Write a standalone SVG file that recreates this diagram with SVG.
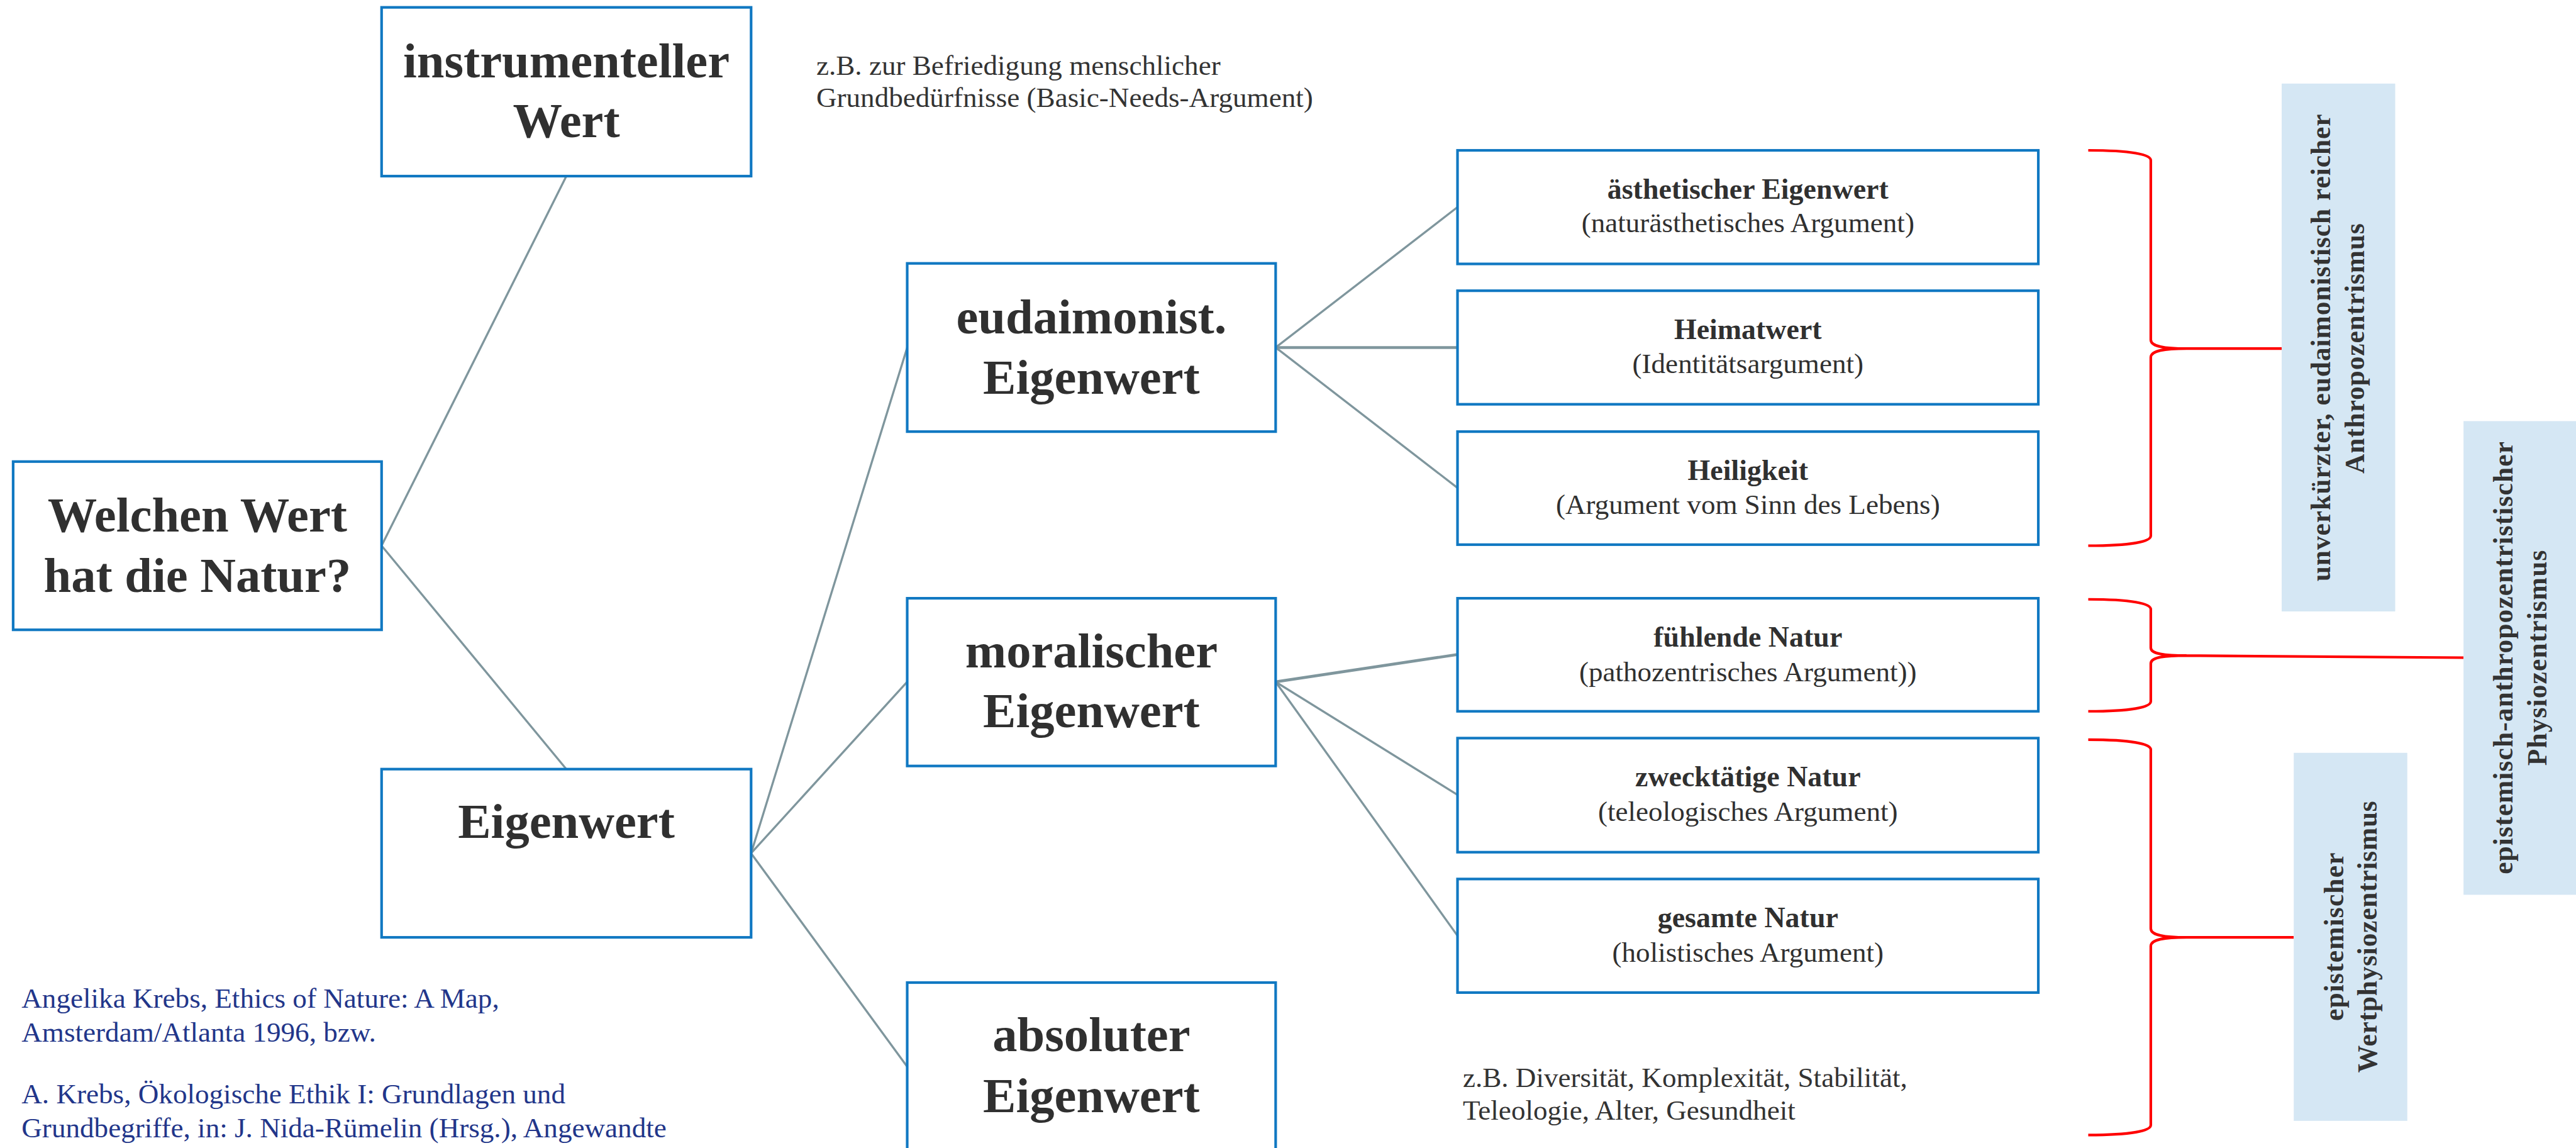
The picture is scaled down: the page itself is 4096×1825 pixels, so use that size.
<svg xmlns="http://www.w3.org/2000/svg" width="4096" height="1825" viewBox="0 0 4096 1825">
  <style>
    .box { fill: #ffffff; stroke: #1078c2; stroke-width: 5; }
    .main { font-family: "Liberation Serif", "Times New Roman", serif; font-weight: bold; font-size: 94px; fill: #303030; text-anchor: middle; }
    .ttl { font-family: "Liberation Serif", "Times New Roman", serif; font-weight: bold; font-size: 55px; fill: #303030; text-anchor: middle; }
    .sub { font-family: "Liberation Serif", "Times New Roman", serif; font-size: 54px; fill: #303030; text-anchor: middle; }
    .note { font-family: "Liberation Serif", "Times New Roman", serif; font-size: 54px; fill: #333333; }
    .cite { font-family: "Liberation Serif", "Times New Roman", serif; font-size: 54px; fill: #22368a; }
    .conn line { stroke: #7f969d; stroke-width: 4; stroke-linecap: round; }
    .conn line.thick { stroke-width: 5.5; }
    .brace { fill: none; stroke: #ff0000; stroke-width: 5; }
    .lab rect { fill: #d5e7f4; }
    .lab text { font-family: "Liberation Serif", "Times New Roman", serif; font-weight: bold; font-size: 52px; fill: #333333; text-anchor: middle; }
  </style>
  <rect width="4096" height="1825" fill="#ffffff"/>
  <!-- everything below is laid out in 4901 x 2184 units -->
  <g transform="scale(0.83575)">
    <!-- connectors -->
    <g id="connectors" class="conn">
      <line x1="726" y1="1038" x2="1077.5" y2="335"/>
      <line x1="726" y1="1038" x2="1077.5" y2="1463"/>
      <line x1="1429" y1="1623" x2="1726" y2="661"/>
      <line x1="1429" y1="1623" x2="1726" y2="1297"/>
      <line x1="1429" y1="1623" x2="1726" y2="2029"/>
      <line x1="2427" y1="661" x2="2773" y2="394"/>
      <line class="thick" x1="2427" y1="661" x2="2773" y2="661"/>
      <line x1="2427" y1="661" x2="2773" y2="928"/>
      <line class="thick" x1="2427" y1="1297" x2="2773" y2="1245"/>
      <line x1="2427" y1="1297" x2="2773" y2="1512"/>
      <line x1="2427" y1="1297" x2="2773" y2="1780"/>
    </g>

    <!-- main column nodes -->
    <g id="node-frage">
      <rect class="box" x="25" y="878" width="701" height="320"/>
      <text class="main" x="375.5" y="1011">Welchen Wert</text>
      <text class="main" x="375.5" y="1126">hat die Natur?</text>
    </g>
    <g id="node-instrumentell">
      <rect class="box" x="726" y="14" width="703" height="321"/>
      <text class="main" x="1077.5" y="147">instrumenteller</text>
      <text class="main" x="1077.5" y="261">Wert</text>
    </g>
    <g id="node-eigenwert">
      <rect class="box" x="726" y="1463" width="703" height="320"/>
      <text class="main" x="1077.5" y="1594">Eigenwert</text>
    </g>
    <g id="node-eudaimonist">
      <rect class="box" x="1726" y="501" width="701" height="320"/>
      <text class="main" x="2076.5" y="634">eudaimonist.</text>
      <text class="main" x="2076.5" y="749">Eigenwert</text>
    </g>
    <g id="node-moralisch">
      <rect class="box" x="1726" y="1138" width="701" height="319"/>
      <text class="main" x="2076.5" y="1269">moralischer</text>
      <text class="main" x="2076.5" y="1383">Eigenwert</text>
    </g>
    <g id="node-absolut">
      <rect class="box" x="1726" y="1869" width="701" height="320"/>
      <text class="main" x="2076.5" y="1999">absoluter</text>
      <text class="main" x="2076.5" y="2115">Eigenwert</text>
    </g>

    <!-- argument nodes -->
    <g id="node-aesthetisch">
      <rect class="box" x="2773" y="286" width="1105" height="216"/>
      <text class="ttl" x="3325.5" y="378">ästhetischer Eigenwert</text>
      <text class="sub" x="3325.5" y="442">(naturästhetisches Argument)</text>
    </g>
    <g id="node-heimat">
      <rect class="box" x="2773" y="553" width="1105" height="216"/>
      <text class="ttl" x="3325.5" y="645">Heimatwert</text>
      <text class="sub" x="3325.5" y="710">(Identitätsargument)</text>
    </g>
    <g id="node-heiligkeit">
      <rect class="box" x="2773" y="821" width="1105" height="215"/>
      <text class="ttl" x="3325.5" y="913">Heiligkeit</text>
      <text class="sub" x="3325.5" y="978">(Argument vom Sinn des Lebens)</text>
    </g>
    <g id="node-fuehlend">
      <rect class="box" x="2773" y="1138" width="1105" height="215"/>
      <text class="ttl" x="3325.5" y="1230">fühlende Natur</text>
      <text class="sub" x="3325.5" y="1296">(pathozentrisches Argument))</text>
    </g>
    <g id="node-zwecktaetig">
      <rect class="box" x="2773" y="1404" width="1105" height="217"/>
      <text class="ttl" x="3325.5" y="1496">zwecktätige Natur</text>
      <text class="sub" x="3325.5" y="1562">(teleologisches Argument)</text>
    </g>
    <g id="node-gesamt">
      <rect class="box" x="2773" y="1672" width="1105" height="216"/>
      <text class="ttl" x="3325.5" y="1764">gesamte Natur</text>
      <text class="sub" x="3325.5" y="1830">(holistisches Argument)</text>
    </g>

    <!-- free notes -->
    <g id="note-basic-needs" class="note">
      <text x="1553" y="142">z.B. zur Befriedigung menschlicher</text>
      <text x="1553" y="203">Grundbedürfnisse (Basic-Needs-Argument)</text>
    </g>
    <g id="note-eigenschaften" class="note">
      <text x="2783" y="2068">z.B. Diversität, Komplexität, Stabilität,</text>
      <text x="2783" y="2130">Teleologie, Alter, Gesundheit</text>
    </g>
    <g id="note-quellen" class="cite">
      <text x="41" y="1917">Angelika Krebs, Ethics of Nature: A Map,</text>
      <text x="41" y="1981">Amsterdam/Atlanta 1996, bzw.</text>
      <text x="41" y="2099">A. Krebs, Ökologische Ethik I: Grundlagen und</text>
      <text x="41" y="2163">Grundbegriffe, in: J. Nida-Rümelin (Hrsg.), Angewandte</text>
    </g>

    <!-- curly braces grouping the arguments -->
    <g id="braces" class="brace">
      <path d="M3973 286 C4055 286 4092 294 4092 305 L4092 646 C4092 657 4108 663 4160 663 M4160 663 C4108 663 4092 669 4092 680 L4092 1019 C4092 1030 4055 1038 3973 1038 M4150 663 L4341 663"/>
      <path d="M3973 1140 C4055 1140 4092 1148 4092 1159 L4092 1232 C4092 1242 4108 1247 4160 1247 M4160 1247 C4108 1247 4092 1252 4092 1262 L4092 1334 C4092 1345 4055 1353 3973 1353 M4150 1247 L4687 1251"/>
      <path d="M3973 1407 C4055 1407 4092 1415 4092 1426 L4092 1766 C4092 1777 4108 1783 4160 1783 M4160 1783 C4108 1783 4092 1789 4092 1800 L4092 2140 C4092 2151 4055 2159 3973 2159 M4150 1783 L4364 1783"/>
    </g>

    <!-- position labels -->
    <g id="label-anthropozentrismus" class="lab">
      <rect x="4341" y="159" width="216" height="1004"/>
      <text transform="translate(4433 661.5) rotate(-90)" textLength="889" lengthAdjust="spacing">unverkürzter, eudaimonistisch reicher</text>
      <text transform="translate(4498 663) rotate(-90)" textLength="476" lengthAdjust="spacing">Anthropozentrismus</text>
    </g>
    <g id="label-physiozentrismus" class="lab">
      <rect x="4687" y="801" width="216" height="901"/>
      <text transform="translate(4780 1251.5) rotate(-90)" textLength="823" lengthAdjust="spacing">epistemisch-anthropozentristischer</text>
      <text transform="translate(4845 1251.5) rotate(-90)" textLength="410" lengthAdjust="spacing">Physiozentrismus</text>
    </g>
    <g id="label-wertphysiozentrismus" class="lab">
      <rect x="4364" y="1432" width="216" height="700"/>
      <text transform="translate(4458 1782) rotate(-90)" textLength="320" lengthAdjust="spacing">epistemischer</text>
      <text transform="translate(4522 1782) rotate(-90)" textLength="517" lengthAdjust="spacing">Wertphysiozentrismus</text>
    </g>
  </g>
</svg>
